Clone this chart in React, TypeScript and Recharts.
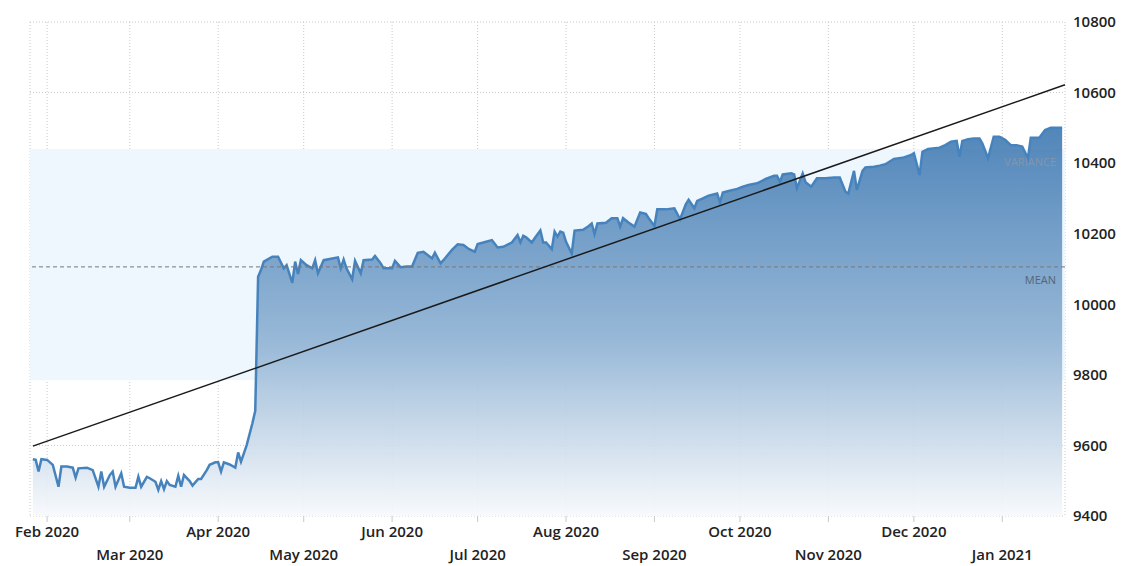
import {
  ComposedChart,
  Area,
  XAxis,
  YAxis,
  CartesianGrid,
  ReferenceArea,
  ReferenceLine,
} from 'recharts';

// day = days since 1 Jan 2020
const days = [
  26, 27, 28, 29, 31, 33, 35, 36, 38, 40, 41, 42, 45, 47, 49, 50, 51, 53, 54, 55,
  57, 58, 60, 62, 63, 64, 66, 67, 69, 70, 71, 72, 73, 74, 76, 77, 78, 79, 81, 82,
  84, 85, 87, 88, 90, 91, 92, 93, 95, 97, 98, 99, 101, 103, 104, 105, 106, 107, 110, 112,
  114, 115, 117, 118, 119, 120, 122, 124, 125, 126, 128, 131, 133, 134, 135, 136, 138, 139, 141, 142,
  145, 146, 148, 149, 152, 153, 155, 157, 159, 161, 163, 166, 167, 169, 170, 173, 175, 177, 179, 181,
  182, 184, 187, 189, 191, 194, 196, 197, 198, 199, 201, 202, 204, 205, 206, 208, 209, 210, 211, 212,
  213, 215, 216, 219, 221, 222, 223, 224, 227, 229, 231, 232, 233, 235, 237, 239, 241, 242, 244, 245,
  248, 251, 253, 255, 256, 258, 259, 261, 263, 266, 267, 268, 270, 273, 275, 277, 280, 283, 286, 287,
  288, 289, 292, 293, 294, 296, 297, 299, 301, 304, 307, 309, 311, 312, 314, 315, 317, 318, 321, 323,
  325, 328, 331, 334, 335, 337, 338, 340, 344, 346, 348, 350, 351, 352, 354, 356, 358, 359, 361, 363,
  365, 367, 369, 371, 373, 375, 376, 379, 381, 383, 387,
];

const values = [
  9561, 9559, 9526, 9561, 9559, 9545, 9483, 9540, 9540, 9537, 9509, 9535, 9537, 9530, 9483, 9526, 9483, 9516, 9526, 9483,
  9521, 9483, 9480, 9480, 9511, 9483, 9511, 9507, 9497, 9474, 9499, 9476, 9499, 9488, 9483, 9514, 9483, 9516, 9499, 9486,
  9505, 9505, 9530, 9545, 9552, 9552, 9526, 9552, 9546, 9537, 9580, 9554, 9601, 9663, 9698, 10078, 10097, 10121, 10135, 10135,
  10102, 10111, 10061, 10121, 10086, 10125, 10111, 10102, 10125, 10088, 10125, 10130, 10133, 10102, 10127, 10102, 10071, 10123, 10088, 10125,
  10127, 10137, 10116, 10102, 10102, 10123, 10105, 10107, 10107, 10146, 10149, 10130, 10146, 10116, 10125, 10154, 10170, 10168, 10156, 10149,
  10171, 10175, 10182, 10161, 10163, 10175, 10196, 10175, 10194, 10190, 10175, 10187, 10209, 10175, 10175, 10156, 10206, 10192, 10206, 10203,
  10177, 10144, 10209, 10211, 10222, 10229, 10199, 10229, 10231, 10244, 10244, 10220, 10244, 10231, 10220, 10260, 10256, 10244, 10222, 10269,
  10269, 10272, 10241, 10283, 10296, 10272, 10293, 10300, 10308, 10314, 10289, 10317, 10321, 10327, 10333, 10338, 10343, 10355, 10364, 10364,
  10347, 10368, 10371, 10368, 10329, 10371, 10346, 10333, 10357, 10357, 10359, 10359, 10319, 10314, 10378, 10324, 10378, 10388, 10390, 10393,
  10397, 10412, 10415, 10423, 10428, 10366, 10432, 10440, 10444, 10451, 10461, 10463, 10418, 10463, 10468, 10470, 10470, 10456, 10414, 10475,
  10475, 10466, 10451, 10451, 10447, 10414, 10472, 10472, 10494, 10500, 10500,
];

const monthTicks = [31, 60, 91, 121, 152, 182, 213, 244, 274, 305, 335, 366];
const monthLabels = [
  'Feb 2020', 'Mar 2020', 'Apr 2020', 'May 2020', 'Jun 2020', 'Jul 2020',
  'Aug 2020', 'Sep 2020', 'Oct 2020', 'Nov 2020', 'Dec 2020', 'Jan 2021',
];
const valueTicks = [9400, 9600, 9800, 10000, 10200, 10400, 10600, 10800];

const meanValue = 10106;
const varianceLow = 9785;
const varianceHigh = 10440;
const trendStart = { x: 26, y: 9598 };
const trendEnd = { x: 388, y: 10622 };

const data = days.map((d, i) => ({ day: d, value: values[i] }));

const FONT = "'Open Sans', sans-serif";

function MonthTick({ x, y, payload, index }: any) {
  const i = monthTicks.indexOf(payload.value);
  const k = i >= 0 ? i : index;
  return (
    <text
      x={x}
      y={y}
      dy={k % 2 === 0 ? 13 : 36}
      textAnchor="middle"
      fontFamily={FONT}
      fontSize={15}
      fontWeight={600}
      fill="#222"
    >
      {monthLabels[k]}
    </text>
  );
}

export default function App() {
  return (
    <div style={{ position: 'fixed', left: 0, top: 0, background: '#fff' }}>
      <ComposedChart
        width={1121}
        height={566}
        data={data}
        margin={{ top: 22, right: 0, left: 30, bottom: 0 }}
      >
        <defs>
          <linearGradient id="areaFill" x1="0" y1="0" x2="0" y2="1">
            <stop offset="0%" stopColor="#3f79b2" stopOpacity={1} />
            <stop offset="55%" stopColor="#8fb2d3" stopOpacity={1} />
            <stop offset="100%" stopColor="#f7f9fc" stopOpacity={1} />
          </linearGradient>
        </defs>
        <ReferenceArea
          y1={varianceLow}
          y2={varianceHigh}
          fill="#eef6fe"
          fillOpacity={1}
          stroke="none"
          label={{
            value: 'VARIANCE',
            position: 'insideTopRight',
            fill: '#8595ab',
            fontSize: 11,
            fontFamily: FONT,
            offset: 9,
          }}
        />
        <CartesianGrid stroke="#c8c8c8" strokeDasharray="1 2" />
        <XAxis
          dataKey="day"
          type="number"
          domain={[25, 388]}
          ticks={monthTicks}
          interval={0}
          height={50}
          axisLine={false}
          tickLine={{ stroke: '#c8c8c8' }}
          tickSize={6}
          tick={<MonthTick />}
        />
        <YAxis
          orientation="right"
          type="number"
          domain={[9400, 10800]}
          ticks={valueTicks}
          width={56}
          axisLine={false}
          tickLine={false}
          tickSize={0}
          tickMargin={8}
          tick={{ fontFamily: FONT, fontSize: 15, fontWeight: 600, fill: '#222', textAnchor: 'start' }}
        />
        <Area
          type="linear"
          dataKey="value"
          stroke="#4683bd"
          strokeWidth={2.5}
          fill="url(#areaFill)"
          fillOpacity={0.9}
          isAnimationActive={false}
          dot={false}
          activeDot={false}
        />
        <ReferenceLine
          y={meanValue}
          stroke="#777"
          strokeDasharray="4 3"
          label={{
            value: 'MEAN',
            position: 'insideTopRight',
            fill: '#55647a',
            fontSize: 11,
            fontFamily: FONT,
            offset: 9,
          }}
        />
        <ReferenceLine
          segment={[trendStart, trendEnd]}
          stroke="#1a1a1a"
          strokeWidth={1.5}
          ifOverflow="visible"
        />
      </ComposedChart>
    </div>
  );
}
